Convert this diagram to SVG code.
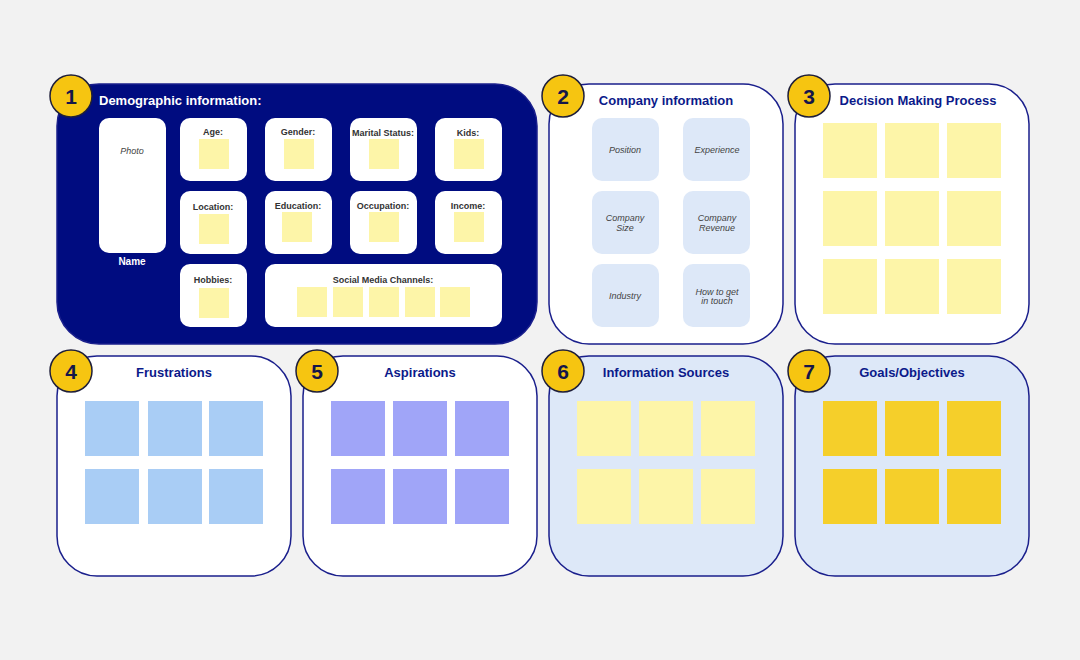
<svg xmlns="http://www.w3.org/2000/svg" width="1080" height="660" viewBox="0 0 1080 660">
<defs><style>
text{font-family:"Liberation Sans",Arial,sans-serif}
.panel{stroke:#1a1f8c;stroke-width:1.5}
.badge{fill:#f6c511;stroke:#1f1f3a;stroke-width:1.5}
.num{font-size:21px;font-weight:bold;fill:#14164a;text-anchor:middle}
.title{font-size:13px;font-weight:bold;fill:#0b1a8a;text-anchor:middle}
.wbox{fill:#fff}
.lbl{font-size:9px;font-weight:bold;fill:#333;text-anchor:middle}
.it{font-size:9px;font-style:italic;fill:#444;text-anchor:middle}
.y{fill:#fdf5a8}
.cb{fill:#dde8f8}
.b{fill:#a9cdf5}
.p{fill:#a0a5f8}
.g{fill:#f5cf2a}
</style></defs>
<rect width="1080" height="660" fill="#f2f2f2"/>
<g id="panel1">
<rect class="panel" x="57" y="84" width="480" height="260" rx="42" fill="#000c80"/>
<text x="99" y="105" font-size="13" font-weight="bold" fill="#fff">Demographic information:</text>
<rect class="wbox" x="99" y="118" width="67" height="135" rx="10"/>
<text class="it" x="132" y="154">Photo</text>
<text x="132" y="265" font-size="10" font-weight="bold" fill="#fff" text-anchor="middle">Name</text>
<g id="age"><rect class="wbox" x="180" y="118" width="67" height="63" rx="10"/><text class="lbl" x="213" y="135">Age:</text><rect class="y" x="199" y="139" width="30" height="30"/></g>
<g id="gender"><rect class="wbox" x="265" y="118" width="67" height="63" rx="10"/><text class="lbl" x="298" y="135">Gender:</text><rect class="y" x="284" y="139" width="30" height="30"/></g>
<g id="marital"><rect class="wbox" x="350" y="118" width="67" height="63" rx="10"/><text class="lbl" x="383" y="136">Marital Status:</text><rect class="y" x="369" y="139" width="30" height="30"/></g>
<g id="kids"><rect class="wbox" x="435" y="118" width="67" height="63" rx="10"/><text class="lbl" x="468" y="136">Kids:</text><rect class="y" x="454" y="139" width="30" height="30"/></g>
<g id="location"><rect class="wbox" x="180" y="191" width="67" height="63" rx="10"/><text class="lbl" x="213" y="210">Location:</text><rect class="y" x="199" y="214" width="30" height="30"/></g>
<g id="education"><rect class="wbox" x="265" y="191" width="67" height="63" rx="10"/><text class="lbl" x="298" y="209">Education:</text><rect class="y" x="282" y="212" width="30" height="30"/></g>
<g id="occupation"><rect class="wbox" x="350" y="191" width="67" height="63" rx="10"/><text class="lbl" x="383" y="209">Occupation:</text><rect class="y" x="369" y="212" width="30" height="30"/></g>
<g id="income"><rect class="wbox" x="435" y="191" width="67" height="63" rx="10"/><text class="lbl" x="468" y="209">Income:</text><rect class="y" x="454" y="212" width="30" height="30"/></g>
<g id="hobbies"><rect class="wbox" x="180" y="264" width="67" height="63" rx="10"/><text class="lbl" x="213" y="283">Hobbies:</text><rect class="y" x="199" y="288" width="30" height="30"/></g>
<g id="social"><rect class="wbox" x="265" y="264" width="237" height="63" rx="10"/><text class="lbl" x="383" y="283">Social Media Channels:</text>
<rect class="y" x="297" y="287" width="30" height="30"/><rect class="y" x="333" y="287" width="30" height="30"/><rect class="y" x="369" y="287" width="30" height="30"/><rect class="y" x="405" y="287" width="30" height="30"/><rect class="y" x="440" y="287" width="30" height="30"/></g>
<circle class="badge" cx="71" cy="96" r="21"/><text class="num" x="71" y="104">1</text>
</g>
<g id="panel2">
<rect class="panel" x="549" y="84" width="234" height="260" rx="40" fill="#fff"/>
<text class="title" x="666" y="105">Company information</text>
<rect class="cb" x="592" y="118" width="67" height="63" rx="10"/><text class="it" x="625" y="153">Position</text>
<rect class="cb" x="683" y="118" width="67" height="63" rx="10"/><text class="it" x="717" y="153">Experience</text>
<rect class="cb" x="592" y="191" width="67" height="63" rx="10"/><text class="it" x="625" y="221">Company</text><text class="it" x="625" y="231">Size</text>
<rect class="cb" x="683" y="191" width="67" height="63" rx="10"/><text class="it" x="717" y="221">Company</text><text class="it" x="717" y="231">Revenue</text>
<rect class="cb" x="592" y="264" width="67" height="63" rx="10"/><text class="it" x="625" y="299">Industry</text>
<rect class="cb" x="683" y="264" width="67" height="63" rx="10"/><text class="it" x="717" y="295">How to get</text><text class="it" x="717" y="304">in touch</text>
<circle class="badge" cx="563" cy="96" r="21"/><text class="num" x="563" y="104">2</text>
</g>
<g id="panel3">
<rect class="panel" x="795" y="84" width="234" height="260" rx="40" fill="#fff"/>
<text class="title" x="918" y="105">Decision Making Process</text>
<g class="y"><rect x="823" y="123" width="54" height="55"/><rect x="885" y="123" width="54" height="55"/><rect x="947" y="123" width="54" height="55"/>
<rect x="823" y="191" width="54" height="55"/><rect x="885" y="191" width="54" height="55"/><rect x="947" y="191" width="54" height="55"/>
<rect x="823" y="259" width="54" height="55"/><rect x="885" y="259" width="54" height="55"/><rect x="947" y="259" width="54" height="55"/></g>
<circle class="badge" cx="809" cy="96" r="21"/><text class="num" x="809" y="104">3</text>
</g>
<g id="panel4">
<rect class="panel" x="57" y="356" width="234" height="220" rx="40" fill="#fff"/>
<text class="title" x="174" y="377">Frustrations</text>
<g class="b"><rect x="85" y="401" width="54" height="55"/><rect x="148" y="401" width="54" height="55"/><rect x="209" y="401" width="54" height="55"/>
<rect x="85" y="469" width="54" height="55"/><rect x="148" y="469" width="54" height="55"/><rect x="209" y="469" width="54" height="55"/></g>
<circle class="badge" cx="71" cy="371" r="21"/><text class="num" x="71" y="379">4</text>
</g>
<g id="panel5">
<rect class="panel" x="303" y="356" width="234" height="220" rx="40" fill="#fff"/>
<text class="title" x="420" y="377">Aspirations</text>
<g class="p"><rect x="331" y="401" width="54" height="55"/><rect x="393" y="401" width="54" height="55"/><rect x="455" y="401" width="54" height="55"/>
<rect x="331" y="469" width="54" height="55"/><rect x="393" y="469" width="54" height="55"/><rect x="455" y="469" width="54" height="55"/></g>
<circle class="badge" cx="317" cy="371" r="21"/><text class="num" x="317" y="379">5</text>
</g>
<g id="panel6">
<rect class="panel" x="549" y="356" width="234" height="220" rx="40" fill="#dde8f8"/>
<text class="title" x="666" y="377">Information Sources</text>
<g class="y"><rect x="577" y="401" width="54" height="55"/><rect x="639" y="401" width="54" height="55"/><rect x="701" y="401" width="54" height="55"/>
<rect x="577" y="469" width="54" height="55"/><rect x="639" y="469" width="54" height="55"/><rect x="701" y="469" width="54" height="55"/></g>
<circle class="badge" cx="563" cy="371" r="21"/><text class="num" x="563" y="379">6</text>
</g>
<g id="panel7">
<rect class="panel" x="795" y="356" width="234" height="220" rx="40" fill="#dde8f8"/>
<text class="title" x="912" y="377">Goals/Objectives</text>
<g class="g"><rect x="823" y="401" width="54" height="55"/><rect x="885" y="401" width="54" height="55"/><rect x="947" y="401" width="54" height="55"/>
<rect x="823" y="469" width="54" height="55"/><rect x="885" y="469" width="54" height="55"/><rect x="947" y="469" width="54" height="55"/></g>
<circle class="badge" cx="809" cy="371" r="21"/><text class="num" x="809" y="379">7</text>
</g>
<g id="connectors"/>
</svg>
